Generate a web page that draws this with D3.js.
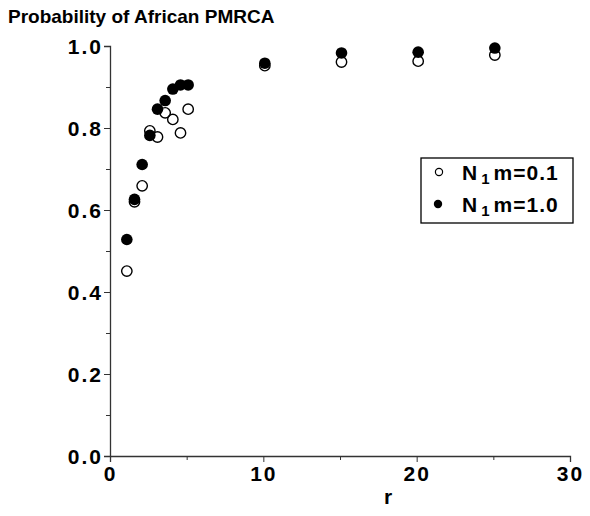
<!DOCTYPE html>
<html><head><meta charset="utf-8">
<script src="https://cdn.jsdelivr.net/npm/d3@7"></script>
<style>body{margin:0;background:#fff}svg{display:block}text{font-family:"Liberation Sans",Arial,sans-serif;font-weight:bold;fill:#000}</style>
</head><body>
<script>
const rValues = [1, 1.5, 2, 2.5, 3, 3.5, 4, 4.5, 5, 10, 15, 20, 25];
const probLowMigration = [0.451, 0.620, 0.659, 0.793, 0.778, 0.837, 0.821, 0.788, 0.846, 0.952, 0.961, 0.963, 0.978];
const probHighMigration = [0.528, 0.626, 0.711, 0.782, 0.846, 0.867, 0.895, 0.905, 0.905, 0.958, 0.983, 0.985, 0.995];
const xTicks = [0, 10, 20, 30];
const yTicks = [0.0, 0.2, 0.4, 0.6, 0.8, 1.0];
const seriesNames = ["0.1", "1.0"];

const W = 590, H = 516;
const svg = d3.select("body").append("svg").attr("width", W).attr("height", H);
const x = d3.scaleLinear().domain([0, 30]).range([110, 570]);
const y = d3.scaleLinear().domain([0, 1]).range([456, 46]);

// axes
const xAxis = d3.axisBottom(x).tickValues(xTicks).tickSize(6).tickFormat(d3.format("d"));
const gx = svg.append("g").attr("transform", `translate(0,${y(0)})`).call(xAxis);
gx.select(".domain").attr("stroke", "#333").attr("stroke-width", 1.3);
gx.selectAll(".tick line").attr("stroke", "#333");
gx.selectAll(".tick text").attr("dy", "0.9em").attr("y", 6).style("font-size", "21px").style("letter-spacing", "2px");
const gxm = svg.append("g").attr("transform", `translate(0,${y(0)})`)
  .call(d3.axisBottom(x).tickValues([5, 15, 25]).tickSize(4).tickFormat(""));
gxm.select(".domain").remove();
gxm.selectAll(".tick line").attr("stroke", "#333");

const yAxis = d3.axisLeft(y).tickValues(yTicks).tickSize(6).tickFormat(d3.format(".1f"));
const gy = svg.append("g").attr("transform", `translate(${x(0)},0)`).call(yAxis);
gy.select(".domain").attr("stroke", "#333").attr("stroke-width", 1.3);
gy.selectAll(".tick line").attr("stroke", "#333");
gy.selectAll(".tick text").attr("x", -7).attr("dy", "0.38em").style("font-size", "21px").style("letter-spacing", "2px");
const gym = svg.append("g").attr("transform", `translate(${x(0)},0)`)
  .call(d3.axisLeft(y).tickValues([0.1, 0.3, 0.5, 0.7, 0.9]).tickSize(4).tickFormat(""));
gym.select(".domain").remove();
gym.selectAll(".tick line").attr("stroke", "#333");
svg.selectAll(".tick text").attr("font-family", null).attr("font-size", null);

// title and x label
svg.append("text").attr("x", 8).attr("y", 23).style("font-size", "19px").text("Probability of African PMRCA");
svg.append("text").attr("x", 388).attr("y", 504).attr("text-anchor", "middle").style("font-size", "21px").text("r");

// points
const lowPts = rValues.map((r, i) => ({r, p: probLowMigration[i]}));
const highPts = rValues.map((r, i) => ({r, p: probHighMigration[i]}));
svg.append("g").selectAll("circle").data(highPts).join("circle")
  .attr("cx", d => x(d.r) + 1.5).attr("cy", d => y(d.p)).attr("r", 5.8).attr("fill", "#000");
svg.append("g").selectAll("circle").data(lowPts).join("circle")
  .attr("cx", d => x(d.r) + 1.5).attr("cy", d => y(d.p)).attr("r", 5.2)
  .attr("fill", "none").attr("stroke", "#000").attr("stroke-width", 1.4);

// legend
const lg = svg.append("g");
lg.append("rect").attr("x", 421).attr("y", 158).attr("width", 152).attr("height", 65)
  .attr("fill", "#fff").attr("stroke", "#000").attr("stroke-width", 1.3);
seriesNames.forEach((name, i) => {
  const cy = 172 + i * 32;
  if (i === 0) lg.append("circle").attr("cx", 439).attr("cy", cy).attr("r", 3.6).attr("fill", "none").attr("stroke", "#000").attr("stroke-width", 1.2);
  else lg.append("circle").attr("cx", 438).attr("cy", cy).attr("r", 4.2).attr("fill", "#000");
  const t = lg.append("text").attr("x", 462).attr("y", cy + 8).style("font-size", "21px").style("letter-spacing", "1px");
  t.append("tspan").text("N");
  t.append("tspan").attr("dx", 3).attr("dy", 4).style("font-size", "15px").text("1");
  t.append("tspan").attr("dx", 3).attr("dy", -4).text("m=" + name);
});
</script>
</body></html>
